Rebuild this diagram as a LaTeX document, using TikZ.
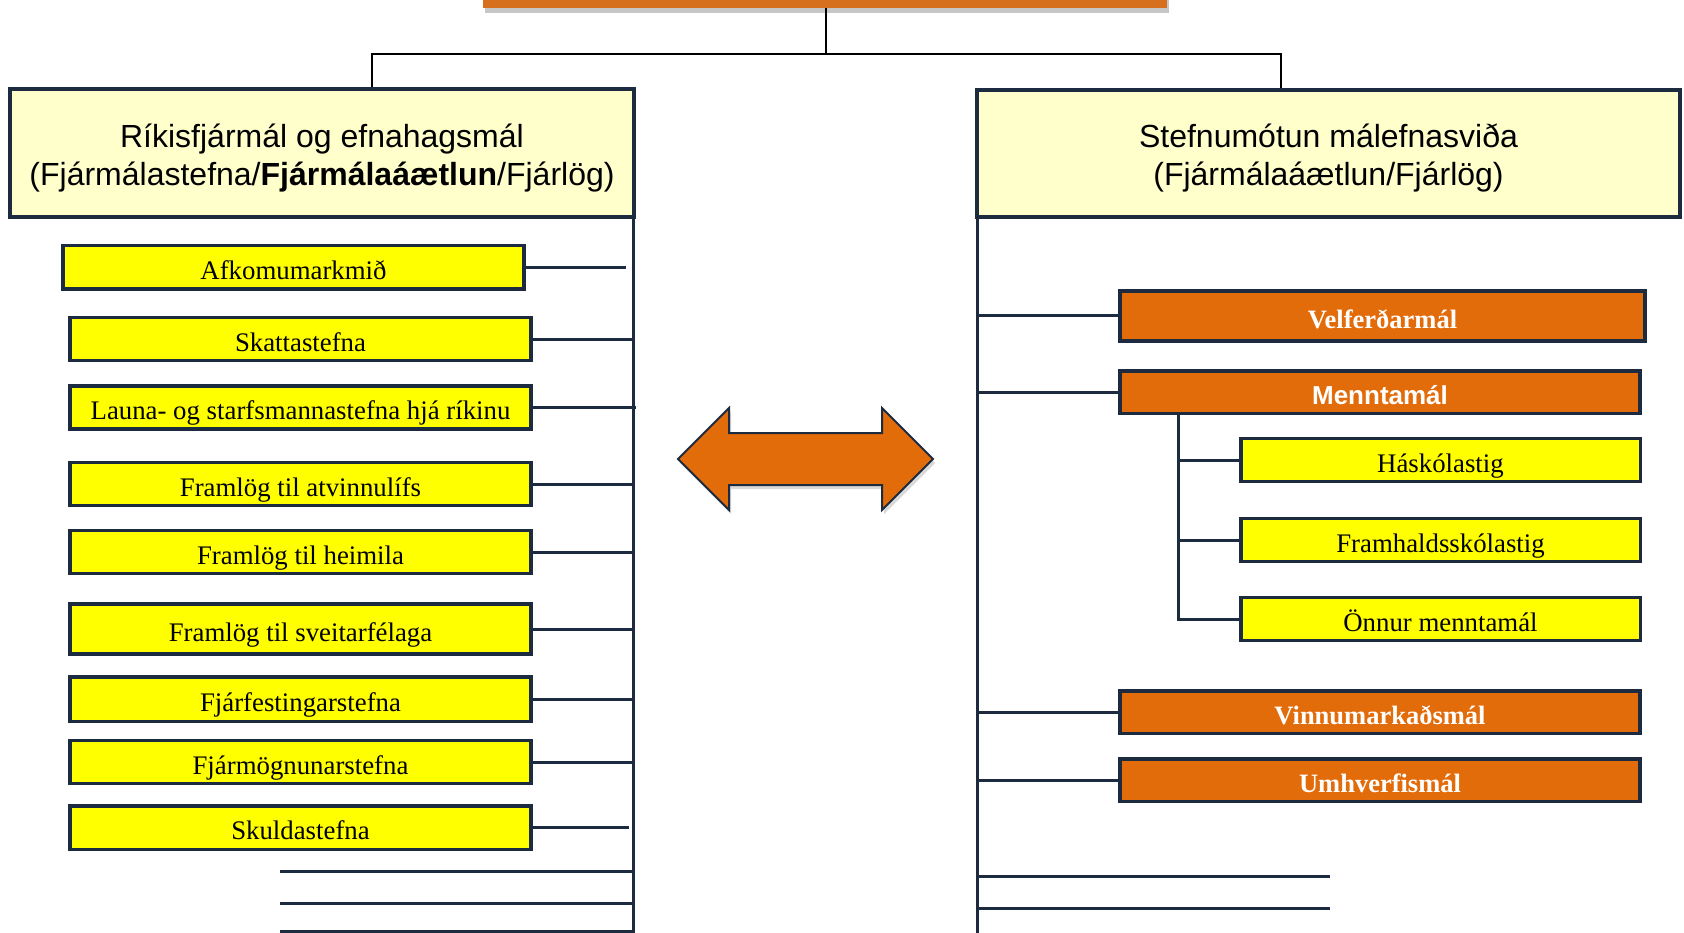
\documentclass[tikz,border=0pt]{standalone}
\usepackage{fontspec}
\setmainfont{Liberation Serif}
\newfontfamily\arialf{Liberation Sans}
\usetikzlibrary{shadows}
\definecolor{navy}{HTML}{1C2B40}
\definecolor{orng}{HTML}{E36C0A}
\definecolor{topor}{HTML}{D6701F}
\definecolor{yel}{HTML}{FFFF00}
\definecolor{lyel}{HTML}{FFFFCC}
\begin{document}
\begin{tikzpicture}[x=1pt,y=-1pt,
  ybox/.style={draw=navy, line width=3.5pt, fill=yel, inner sep=0pt, outer sep=0pt,
    minimum height=43pt, minimum width=461pt, font=\fontsize{26.8}{30}\selectfont,
    text height=24pt, text depth=0pt},
  obox/.style={ybox, fill=orng, text=white, font=\fontsize{26.5}{30}\selectfont\bfseries},
  hbox/.style={draw=navy, line width=3.5pt, fill=lyel, inner sep=0pt, outer sep=0pt,
    align=center, font=\arialf\fontsize{32}{38}\selectfont},
  conn/.style={navy, line width=3pt},
  topconn/.style={black, line width=2.5pt}]
\useasboundingbox (0,0) rectangle (1684,933);
\fill[white] (0,0) rectangle (1684,933);

% top box
\node[fill=topor, minimum width=684pt, minimum height=56pt, inner sep=0pt, outer sep=0pt,
  drop shadow={shadow xshift=2pt, shadow yshift=-5pt, fill=black, opacity=.22}] (top) at (825,-20) {};

% header boxes
\node[hbox, minimum width=624pt, minimum height=128pt] (L) at (322,153)
  {\rule{0pt}{33.5pt}Ríkisfjármál og efnahagsmál\\(Fjármálastefna/\textbf{Fjármálaáætlun}/Fjárlög)};
\node[hbox, minimum width=703pt, minimum height=127pt] (R) at (1328.5,153.5)
  {\rule{0pt}{33.5pt}Stefnumótun málefnasviða\\(Fjármálaáætlun/Fjárlög)};

% left boxes
\node[ybox, minimum height=43.5pt] (b1) at (293.5,267.5) {Afkomumarkmið};
\node[ybox] (b2) at (300.5,339) {Skattastefna};
\node[ybox] (b3) at (300.5,407.5) {Launa- og starfsmannastefna hjá ríkinu};
\node[ybox] (b4) at (300.5,484) {Framlög til atvinnulífs};
\node[ybox] (b5) at (300.5,552) {Framlög til heimila};
\node[ybox, minimum height=50pt] (b6) at (300.5,629) {Framlög til sveitarfélaga};
\node[ybox, minimum height=44.5pt] (b7) at (300.5,699) {Fjárfestingarstefna};
\node[ybox] (b8) at (300.5,762) {Fjármögnunarstefna};
\node[ybox, minimum height=43.5pt] (b9) at (300.5,827.5) {Skuldastefna};

% right boxes
\node[obox, minimum width=525pt, minimum height=50pt] (v1) at (1382.5,316) {Velferðarmál};
\node[obox, minimum width=520pt, minimum height=42.5pt,
  font=\arialf\bfseries\fontsize{26}{30}\selectfont] (m) at (1380,392) {Menntamál};
\node[ybox, minimum width=399.5pt] (s1) at (1440.5,460) {Háskólastig};
\node[ybox, minimum width=399.5pt] (s2) at (1440.5,540) {Framhaldsskólastig};
\node[ybox, minimum width=399.5pt] (s3) at (1440.5,619) {Önnur menntamál};
\node[obox, minimum width=520pt, minimum height=42.5pt] (v3) at (1380,712) {Vinnumarkaðsmál};
\node[obox, minimum width=520pt, minimum height=42.5pt] (v4) at (1380,780) {Umhverfismál};

% arrow
\draw[navy, line width=2pt, fill=orng, line join=miter,
  drop shadow={shadow xshift=2pt, shadow yshift=-4pt, fill=black, opacity=.15}]
  (678,459) -- (729,408) -- (729,433) -- (882,433) -- (882,408) -- (933,459)
  -- (882,510) -- (882,485) -- (729,485) -- (729,510) -- cycle;

% top connectors
\coordinate (bus) at (826,54);
\coordinate (lj) at (372,87);
\coordinate (rj) at (1281,88);
\draw[topconn] (top.south -| bus) -- (bus);
\draw[topconn] (lj) |- (bus) -| (rj);

% left trunk
\coordinate (Ltop) at (633,219);
\coordinate (Lbot) at (633,935);
\draw[conn] (Ltop) -- (Lbot);
\coordinate (e1) at (626,0);
\coordinate (e3) at (636,0);
\coordinate (e9) at (629,0);
\draw[conn] (b1.east) -- (b1.east -| e1);
\draw[conn] (b3.east) -- (b3.east -| e3);
\draw[conn] (b9.east) -- (b9.east -| e9);
\foreach \b in {b2,b4,b5,b6,b7,b8} \draw[conn] (\b.east) -- (\b.east -| Ltop);
\coordinate (x1) at (280,871);
\coordinate (x2) at (280,903);
\coordinate (x3) at (280,931);
\foreach \c in {x1,x2,x3} \draw[conn] (\c) -- (\c -| Ltop);

% right trunk
\coordinate (Rtop) at (977,219);
\coordinate (Rbot) at (977,935);
\draw[conn] (Rtop) -- (Rbot);
\foreach \b in {v1,m,v3,v4} \draw[conn] (Rtop |- \b.west) -- (\b.west);
\coordinate (sub) at (1178,0);
\draw[conn] (m.south -| sub) |- (s3.west);
\foreach \b in {s1,s2} \draw[conn] (sub |- \b.west) -- (\b.west);
\coordinate (rx1) at (1330,876);
\coordinate (rx2) at (1330,908);
\foreach \c in {rx1,rx2} \draw[conn] (Rtop |- \c) -- (\c);
\end{tikzpicture}
\end{document}
